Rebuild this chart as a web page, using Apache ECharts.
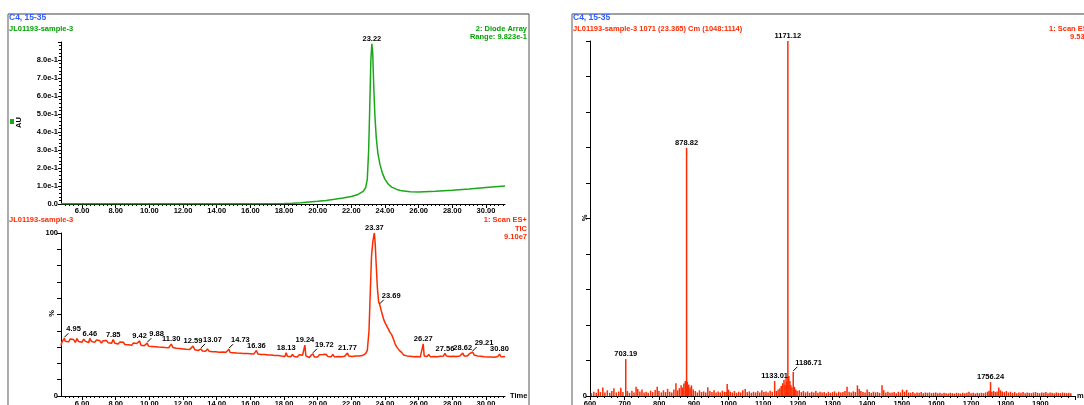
<!DOCTYPE html>
<html><head><meta charset="utf-8">
<script src="https://cdn.jsdelivr.net/npm/echarts@6/dist/echarts.min.js"></script>
<style>html,body{margin:0;padding:0;background:#fff}#c{width:1084px;height:405px}</style>
</head><body><div id="c"></div>
<script>
// ---------- data ----------
const uvData = [[4.75,0.002],[6,0.002],[8,0.002],[10,0.002],[12,0.002],[14,0.002],[16,0.002],[18,0.003],[18.5,0.004],[19,0.007],[19.5,0.011],[20,0.015],[20.5,0.02],[21,0.026],[21.5,0.033],[22,0.042],[22.4,0.053],[22.7,0.07],[22.85,0.09],[22.95,0.14],[23.03,0.3],[23.1,0.56],[23.16,0.8],[23.22,0.89],[23.27,0.84],[23.33,0.66],[23.4,0.49],[23.48,0.37],[23.58,0.28],[23.7,0.22],[23.85,0.17],[24,0.137],[24.2,0.11],[24.4,0.094],[24.7,0.081],[25,0.073],[25.5,0.068],[26,0.067],[27,0.071],[28,0.077],[29,0.084],[30,0.092],[31.13,0.1]];

const ticData = [[4.75,31.0],[4.8,33.0],[4.9,34.2],[4.95,35.4],[5.0,33.6],[5.1,34.8],[5.2,33.2],[5.3,35.0],[5.4,33.8],[5.5,34.6],[5.6,32.9],[5.7,35.2],[5.8,33.4],[5.9,34.4],[6.0,33.0],[6.1,34.9],[6.2,33.5],[6.3,34.1],[6.4,32.8],[6.46,35.3],[6.55,33.6],[6.65,34.5],[6.75,32.9],[6.85,34.3],[6.95,33.1],[7.05,34.0],[7.15,32.5],[7.25,33.9],[7.35,32.7],[7.45,34.1],[7.55,32.6],[7.65,33.5],[7.75,32.3],[7.85,34.6],[7.95,32.4],[8.05,33.4],[8.15,31.9],[8.25,33.2],[8.35,32.0],[8.45,33.0],[8.55,31.6],[8.65,32.8],[8.75,31.5],[8.85,32.6],[8.95,31.2],[9.05,32.5],[9.15,31.3],[9.25,32.2],[9.35,31.0],[9.42,33.8],[9.5,31.2],[9.6,32.3],[9.7,30.9],[9.8,31.8],[9.88,32.4],[9.95,30.6],[10.05,31.7],[10.15,30.4],[10.25,31.5],[10.35,30.2],[10.45,31.4],[10.55,30.0],[10.65,31.2],[10.75,29.9],[10.85,30.9],[10.95,29.7],[11.05,30.8],[11.15,29.6],[11.3,31.8],[11.4,29.8],[11.5,30.6],[11.6,29.3],[11.7,30.4],[11.8,29.1],[11.9,30.2],[12.0,28.9],[12.1,30.0],[12.2,28.7],[12.3,29.8],[12.4,28.6],[12.5,29.5],[12.59,30.6],[12.7,28.4],[12.8,29.4],[12.9,27.9],[13.0,28.6],[13.07,28.9],[13.15,27.6],[13.25,28.7],[13.35,27.5],[13.45,28.9],[13.55,27.4],[13.65,28.4],[13.75,27.2],[13.85,28.3],[13.95,27.1],[14.05,28.1],[14.15,26.9],[14.25,28.0],[14.35,27.0],[14.45,27.9],[14.55,26.8],[14.65,27.6],[14.73,28.7],[14.8,26.7],[14.9,27.8],[15.0,26.6],[15.1,27.6],[15.2,26.4],[15.3,27.5],[15.4,26.3],[15.5,27.3],[15.6,26.1],[15.7,27.2],[15.8,26.0],[15.9,27.1],[16.0,25.9],[16.1,26.9],[16.2,25.7],[16.28,26.6],[16.36,27.9],[16.45,25.8],[16.55,26.8],[16.65,25.5],[16.75,26.6],[16.85,25.4],[16.95,26.5],[17.05,25.2],[17.15,26.4],[17.25,25.1],[17.35,26.2],[17.45,24.9],[17.55,26.1],[17.65,24.8],[17.75,25.9],[17.85,24.5],[17.95,25.6],[18.05,24.3],[18.13,26.6],[18.2,24.4],[18.3,25.6],[18.4,24.1],[18.5,25.5],[18.6,24.2],[18.7,25.4],[18.8,24.0],[18.9,25.3],[19.0,24.3],[19.1,25.0],[19.18,24.4],[19.24,31.2],[19.3,24.6],[19.4,25.2],[19.5,23.6],[19.6,24.9],[19.72,25.9],[19.8,23.9],[19.9,25.0],[20.0,24.0],[20.1,25.3],[20.2,24.1],[20.3,25.4],[20.4,24.2],[20.5,25.6],[20.6,24.3],[20.7,25.2],[20.8,24.1],[20.9,25.5],[21.0,24.0],[21.1,25.2],[21.2,24.3],[21.3,25.4],[21.4,24.1],[21.5,25.3],[21.6,24.4],[21.68,25.1],[21.77,26.3],[21.85,24.5],[21.95,25.6],[22.05,24.3],[22.15,25.5],[22.25,24.6],[22.35,25.8],[22.45,24.5],[22.55,25.7],[22.65,24.8],[22.75,25.9],[22.85,26.0],[22.95,28],[23.05,40],[23.12,62],[23.2,86],[23.28,95],[23.33,98],[23.37,100],[23.42,93],[23.48,80],[23.55,66],[23.62,58],[23.69,56],[23.76,53],[23.84,50],[23.92,47],[24.0,45],[24.1,43],[24.2,41],[24.3,39],[24.4,37.5],[24.5,35],[24.6,32],[24.7,30],[24.85,28],[25.0,26.6],[25.1,25.2],[25.2,26.0],[25.3,24.6],[25.4,25.6],[25.5,24.4],[25.6,25.5],[25.7,24.1],[25.8,25.3],[25.9,24.2],[26.0,25.4],[26.1,24.0],[26.2,25.0],[26.27,32.0],[26.33,24.5],[26.4,25.3],[26.5,24.2],[26.6,25.5],[26.7,24.0],[26.8,25.1],[26.9,24.3],[27.0,25.4],[27.1,24.1],[27.2,25.2],[27.3,24.4],[27.4,25.6],[27.48,24.6],[27.56,26.1],[27.65,24.5],[27.75,25.5],[27.85,24.2],[27.95,25.3],[28.05,24.4],[28.15,25.6],[28.25,24.3],[28.35,25.4],[28.45,24.5],[28.54,25.5],[28.62,26.3],[28.7,24.6],[28.8,25.7],[28.9,24.5],[29.0,25.8],[29.1,24.9],[29.21,27.0],[29.3,25.1],[29.4,26.0],[29.5,24.6],[29.6,25.6],[29.7,24.4],[29.8,25.4],[29.9,24.1],[30.0,25.2],[30.1,23.9],[30.2,25.0],[30.3,24.0],[30.4,25.1],[30.5,23.8],[30.6,24.9],[30.7,24.2],[30.8,25.7],[30.9,24.0],[31.0,24.8],[31.13,24.3]];

const msData = [[604,0.8],[611,1.2],[618,0.9],[624,2.0],[630,1.1],[637,2.4],[643,1.0],[650,1.6],[657,0.9],[663,1.4],[669,2.2],[676,1.0],[683,1.3],[689,2.3],[695,1.1],[703.19,10.4],[708,1.4],[714,0.9],
[721,1.5],[727,1.0],[733,2.6],[738,2.0],[744,1.3],[750,1.8],[756,1.0],[762,1.2],[768,0.9],[775,1.5],[781,1.1],[788,1.7],[794,2.6],[799,1.4],
[806,1.0],[812,1.6],[818,1.1],[824,2.0],[830,1.2],[836,1.0],[842,1.8],[848,3.6],[853,1.6],[858,2.2],[863,3.0],[867,2.4],[871,3.5],[875,4.2],[878.82,69.9],[881,4.0],[885,3.2],[889,2.4],[893,3.0],[898,1.8],
[904,1.4],[910,1.0],[916,1.6],[922,1.1],[928,1.3],[934,1.0],[940,2.5],[946,1.4],[952,1.1],[958,1.6],[964,1.0],[970,1.3],[976,1.0],[982,1.5],[988,1.2],[993,1.1],[996,3.4],[1000,1.8],[1005,1.2],
[1011,1.0],[1017,1.4],[1023,0.9],[1029,1.2],[1035,1.0],[1041,1.6],[1048,2.0],[1054,1.1],[1060,1.3],[1066,0.9],[1072,1.2],[1078,1.0],[1084,1.4],[1090,1.0],[1096,1.6],[1102,1.1],[1108,1.3],[1114,1.0],[1120,1.5],[1126,1.2],[1133.01,4.2],[1138,1.4],[1143,1.8],[1148,2.2],[1152,2.8],[1156,3.6],[1160,4.6],[1163,3.2],[1166,5.2],[1168,4.0],[1171.12,100],[1174,5.6],[1177,4.2],[1180,3.0],[1183,2.4],[1186.71,6.8],[1190,2.6],[1194,1.8],[1198,1.4],
[1204,1.6],[1210,1.1],[1216,1.4],[1222,1.0],[1228,1.3],[1234,0.9],[1240,1.2],[1246,1.0],[1252,1.4],[1258,0.9],[1264,1.2],[1270,1.0],[1276,1.1],[1282,0.8],[1288,1.2],[1294,0.9],[1300,1.1],[1306,1.3],[1312,0.9],[1318,1.2],[1324,1.0],[1330,1.1],[1336,1.4],[1342,2.6],[1348,1.2],[1354,1.0],[1360,1.3],[1366,1.1],[1372,3.0],[1377,2.0],[1382,1.4],[1388,1.1],[1394,1.0],[1400,1.8],[1406,1.1],
[1412,0.9],[1418,1.2],[1424,1.0],[1430,1.1],[1436,0.9],[1443,3.0],[1448,1.6],[1454,1.0],[1460,1.2],[1466,0.9],[1472,1.0],[1478,1.1],[1484,0.8],[1490,1.2],[1496,1.0],[1502,1.8],[1508,1.2],[1514,1.7],[1520,1.0],[1526,0.9],[1532,1.1],[1538,0.8],[1544,1.0],[1550,0.9],[1556,1.1],[1562,0.8],[1568,1.0],[1574,0.9],[1580,1.0],[1586,0.8],[1592,0.9],[1598,1.0],
[1604,0.8],[1610,0.9],[1616,0.7],[1622,0.9],[1628,0.8],[1634,0.7],[1640,0.9],[1646,0.8],[1652,0.7],[1658,0.9],[1664,0.8],[1670,0.7],[1676,0.9],[1682,0.8],[1688,0.9],[1694,1.2],[1700,0.8],[1706,0.9],[1712,0.7],[1718,0.9],[1724,0.8],[1730,0.9],[1736,0.8],[1742,1.0],[1748,1.2],[1752,1.5],[1756.24,3.9],[1760,1.2],[1765,1.4],[1770,1.1],[1775,1.3],[1780,2.4],[1785,1.6],[1790,1.3],[1796,1.1],[1802,1.4],[1808,1.0],[1814,1.2],[1820,0.9],[1826,1.1],[1832,0.8],[1838,1.0],[1844,0.9],[1850,1.1],[1856,0.8],[1862,1.0],[1868,0.9],[1874,0.8],[1880,1.0],[1886,1.1],[1892,0.9],[1898,0.8],[1904,1.0],[1910,0.9],[1916,1.1],[1922,0.8],[1928,1.0],[1934,0.9],[1940,0.8],[1946,1.0],[1952,0.9],[1958,0.8],[1964,1.0],[1970,0.9],[1976,0.8],[1982,0.9],[1988,0.8]];

// peak labels: [position, leader line (1) or not (0)]
const uvLabels = [[23.22,0]];
const ticLabels = [[4.95,1],[6.46,0],[7.85,0],[9.42,0],[9.88,1],[11.3,0],[12.59,0],[13.07,1],[14.73,1],[16.36,0],[18.13,0],[19.24,0],[19.72,1],[21.77,0],[23.37,0],[23.69,1],[26.27,0],[27.56,0],[28.62,0],[29.21,1],[30.8,0]];
const msLabels = [[703.19,0],[878.82,0],[1133.01,0],[1171.12,0],[1186.71,1],[1756.24,0]];

// tick labels
const timeTicks = [6,8,10,12,14,16,18,20,22,24,26,28,30];
const timeMinor = [5,5.25,5.5,5.75,6.25,6.5,6.75,7,7.25,7.5,7.75,8.25,8.5,8.75,9,9.25,9.5,9.75,10.25,10.5,10.75,11,11.25,11.5,11.75,12.25,12.5,12.75,13,13.25,13.5,13.75,14.25,14.5,14.75,15,15.25,15.5,15.75,16.25,16.5,16.75,17,17.25,17.5,17.75,18.25,18.5,18.75,19,19.25,19.5,19.75,20.25,20.5,20.75,21,21.25,21.5,21.75,22.25,22.5,22.75,23,23.25,23.5,23.75,24.25,24.5,24.75,25,25.25,25.5,25.75,26.25,26.5,26.75,27,27.25,27.5,27.75,28.25,28.5,28.75,29,29.25,29.5,29.75,30.25,30.5,30.75,31];

// ---------- style ----------
const FF = '"Liberation Sans", Arial, sans-serif';
const FONT = 'bold 7.5px ' + FF;
const TFONT = 'bold 8.5px ' + FF;
const GREEN = '#1aa81a', GREENT = '#00a000', RED = '#ff2a00', BLUE = '#2f5cff', GRAY = '#808080';

function annot(labels, data, xi, yi) {
  return {
    type: 'custom', xAxisIndex: xi, yAxisIndex: yi, silent: true, z: 10, clip: false,
    data: labels.map(l => {
      const p = data.find(d => Math.abs(d[0] - l[0]) < 1e-6);
      return [l[0], p[1], l[1]];
    }),
    renderItem: (params, api) => {
      const pt = api.coord([api.value(0), api.value(1)]);
      const text = api.value(0).toFixed(2);
      if (api.value(2)) {
        return { type: 'group', children: [
          { type: 'line', shape: { x1: pt[0], y1: pt[1] - 1, x2: pt[0] + 4, y2: pt[1] - 5 }, style: { stroke: '#000', lineWidth: 1 } },
          { type: 'text', x: pt[0] + 2, y: pt[1] - 5, style: { text, font: FONT, fill: '#000', align: 'left', verticalAlign: 'bottom' } }
        ]};
      }
      return { type: 'text', x: pt[0], y: pt[1] - 1, style: { text, font: FONT, fill: '#000', align: 'center', verticalAlign: 'bottom' } };
    }
  };
}

const lbl = { color: '#000', fontSize: 7.5, fontWeight: 'bold', fontFamily: FF };
const axLine = { show: true, lineStyle: { color: '#000', width: 1 } };

function timeAxes(grid, margin) {
  return [
    { type: 'value', gridIndex: grid, position: 'bottom', min: 4.75, max: 31.13,
      axisLine: axLine, splitLine: { show: false },
      axisTick: { show: true, customValues: timeTicks, length: 4, lineStyle: { color: '#000' } },
      axisLabel: Object.assign({ customValues: timeTicks, margin: margin, formatter: v => v.toFixed(2) }, lbl) },
    { type: 'value', gridIndex: grid, position: 'bottom', offset: 0, min: 4.75, max: 31.13,
      axisLine: { show: false }, splitLine: { show: false }, axisLabel: { show: false },
      axisTick: { show: true, customValues: timeMinor, length: 2, lineStyle: { color: '#000' } } }
  ];
}

function txt(text, x, y, color, align, font) {
  return { type: 'text', x, y, z: 100, style: { text, font: font || FONT, fill: color, align: align || 'left', verticalAlign: 'middle' } };
}
function rtxt(text, x, y) {
  return { type: 'text', x, y, z: 100, rotation: Math.PI / 2, style: { text, font: FONT, fill: '#000', align: 'center', verticalAlign: 'middle' } };
}
function ln(x1, y1, x2, y2, w, c) {
  return { type: 'line', z: 100, shape: { x1, y1, x2, y2 }, style: { stroke: c || GRAY, lineWidth: w } };
}

const chart = echarts.init(document.getElementById('c'), null, { renderer: 'canvas' });
chart.setOption({
  animation: false,
  backgroundColor: '#fff',
  grid: [
    { left: 61, top: 42, width: 444, height: 162, containLabel: false, outerBoundsMode: 'none' },
    { left: 61, top: 233, width: 444, height: 163, containLabel: false, outerBoundsMode: 'none' },
    { left: 590, top: 41, width: 485, height: 355, containLabel: false, outerBoundsMode: 'none' }
  ],
  xAxis: [
    ...timeAxes(0, 3),
    ...timeAxes(1, 4),
    { type: 'value', gridIndex: 2, min: 600, max: 2000, interval: 100,
      axisLine: axLine, splitLine: { show: false },
      axisTick: { show: true, length: 4, lineStyle: { color: '#000' } },
      minorTick: { show: true, splitNumber: 5, length: 2, lineStyle: { color: '#000' } },
      axisLabel: Object.assign({ margin: 4, formatter: v => v >= 2000 ? '' : String(v) }, lbl) }
  ],
  yAxis: [
    { type: 'value', gridIndex: 0, min: 0, max: 0.9, interval: 0.1,
      axisLine: axLine, splitLine: { show: false },
      axisTick: { show: true, length: 3, lineStyle: { color: '#000' } },
      minorTick: { show: true, splitNumber: 5, length: 2, lineStyle: { color: '#000' } },
      axisLabel: Object.assign({ margin: 3, formatter: v => v === 0 ? '0.0' : (v > 0.85 ? '' : (v * 10).toFixed(1) + 'e-1') }, lbl) },
    { type: 'value', gridIndex: 1, min: 0, max: 100, interval: 10,
      axisLine: axLine, splitLine: { show: false },
      axisTick: { show: true, length: 4, lineStyle: { color: '#000' } },
      axisLabel: Object.assign({ margin: 3, formatter: v => v === 0 ? '0' : v === 100 ? '100' : '' }, lbl) },
    { type: 'value', gridIndex: 2, min: 0, max: 100, interval: 10,
      axisLine: axLine, splitLine: { show: false },
      axisTick: { show: true, length: 4, lineStyle: { color: '#000' } },
      axisLabel: Object.assign({ margin: 3, formatter: v => v === 0 ? '0' : '' }, lbl) }
  ],
  series: [
    { type: 'line', xAxisIndex: 0, yAxisIndex: 0, data: uvData, showSymbol: false, symbol: 'none',
      lineStyle: { color: GREEN, width: 1.5 }, z: 5 },
    annot(uvLabels, uvData, 0, 0),
    { type: 'line', xAxisIndex: 2, yAxisIndex: 1, data: ticData, showSymbol: false, symbol: 'none',
      lineStyle: { color: RED, width: 1.5 }, z: 5 },
    annot(ticLabels, ticData, 2, 1),
    { type: 'custom', xAxisIndex: 4, yAxisIndex: 2, data: msData, silent: true, z: 5,
      renderItem: (params, api) => {
        const top = api.coord([api.value(0), api.value(1)]);
        const base = api.coord([api.value(0), 0]);
        return { type: 'line', shape: { x1: top[0], y1: base[1], x2: top[0], y2: top[1] }, style: { stroke: RED, lineWidth: 1.5 } };
      } },
    annot(msLabels, msData, 4, 2)
  ],
  graphic: [
    // frames
    ln(8, 14, 529, 14, 1.5), ln(8, 14, 8, 405, 1.3), ln(529, 14, 529, 405, 1, '#555'),
    ln(572, 14, 1084, 14, 1.5), ln(572, 14, 572, 405, 1.3),
    // UV panel texts
    txt('C4, 15-35', 9, 18, BLUE, 'left', TFONT),
    txt('JL01193-sample-3', 9, 29, GREENT),
    txt('2: Diode Array', 527, 29, GREENT, 'right'),
    txt('Range: 9.823e-1', 527, 36.5, GREENT, 'right'),
    { type: 'rect', z: 100, shape: { x: 10, y: 119, width: 4, height: 5 }, style: { fill: GREEN } },
    rtxt('AU', 18.5, 122.5),
    // TIC panel texts
    txt('JL01193-sample-3', 9, 220, RED),
    txt('1: Scan ES+', 527, 220, RED, 'right'),
    txt('TIC', 527, 228.5, RED, 'right'),
    txt('9.10e7', 527, 237, RED, 'right'),
    rtxt('%', 52, 313.5),
    txt('Time', 510, 396, '#000'),
    // MS panel texts
    txt('C4, 15-35', 573, 18, BLUE, 'left', TFONT),
    txt('JL01193-sample-3 1071 (23.365) Cm (1048:1114)', 573, 29, RED),
    txt('1: Scan ES+', 1049, 29, RED),
    txt('9.53e6', 1070, 36.5, RED),
    rtxt('%', 585, 218),
    txt('m/z', 1077, 396, '#000')
  ]
});
</script>
</body></html>
